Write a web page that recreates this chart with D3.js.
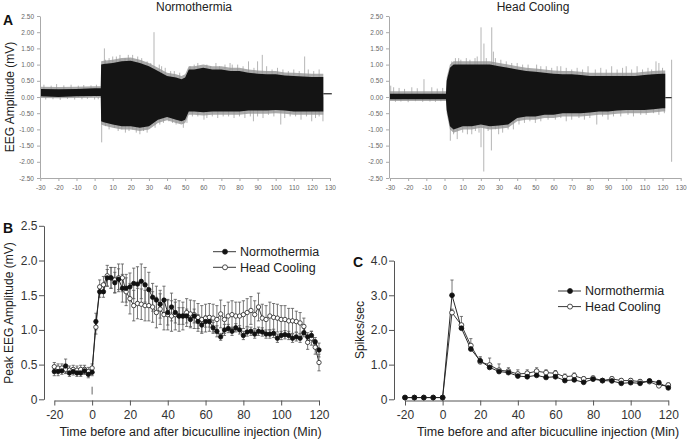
<!DOCTYPE html>
<html><head><meta charset="utf-8">
<script src="https://cdn.jsdelivr.net/npm/d3@7"></script>
<style>body{margin:0;background:#fff} svg{display:block} text{font-family:"Liberation Sans",Arial,sans-serif}</style>
</head><body><svg id="c" width="687" height="441"></svg>
<script>
// ---------- Panel A : EEG traces (envelopes) ----------
const aXTicks = [-30,-20,-10,0,10,20,30,40,50,60,70,80,90,100,110,120,130];
const aYTicks = [-2.5,-2,-1.5,-1,-0.5,0,0.5,1,1.5,2,2.5];

// Normothermia envelope
const nT      = [-30,-20,-10,0,3.4,3.6,5,10,15,20,25,30,35,40,45,48,50,52,55,60,65,70,75,80,85,90,95,100,105,110,115,120,126.3];
const nTop    = [0.25,0.24,0.25,0.27,0.27,1.0,1.02,1.05,1.1,1.12,1.05,0.95,0.8,0.65,0.6,0.55,0.6,0.85,0.85,0.9,0.85,0.85,0.8,0.8,0.75,0.72,0.7,0.7,0.66,0.65,0.63,0.62,0.62];
const nBot    = [0.02,0.0,0.02,0.03,0.03,-0.75,-0.78,-0.85,-0.9,-0.9,-0.95,-0.9,-0.7,-0.62,-0.7,-0.75,-0.7,-0.45,-0.45,-0.47,-0.45,-0.45,-0.45,-0.45,-0.42,-0.42,-0.42,-0.4,-0.42,-0.45,-0.45,-0.45,-0.45];
const nGTop   = [0.32,0.31,0.32,0.33,0.33,1.1,1.12,1.15,1.2,1.22,1.15,1.05,0.9,0.75,0.7,0.65,0.7,0.95,0.95,1.0,0.95,0.95,0.9,0.9,0.85,0.82,0.8,0.8,0.76,0.75,0.73,0.72,0.72];
const nGBot   = [-0.03,-0.04,-0.03,-0.02,-0.02,-0.85,-0.88,-0.95,-1.0,-1.0,-1.05,-1.0,-0.8,-0.72,-0.8,-0.85,-0.8,-0.55,-0.55,-0.57,-0.55,-0.55,-0.55,-0.55,-0.52,-0.52,-0.52,-0.5,-0.52,-0.55,-0.55,-0.55,-0.55];
const nSpikeT = [5.4,10,16.8,18.6,23.8,32.8,35.7,52.7,74.8,76,90,92.6,116,
  6,8,12,14,19,21,26,29,31,37,39,42,44,47,55,57,62,64,67,69,72,79,82,85,88,95,98,101,104,107,110,113,118,121,124,
  3.9,17,25,27,33.4,47,60.4,87.7,102.8,119.9,126.1,
  6,8,11,13,15,19,21,23,29,31,36,38,41,43,45,49,51,54,57,62,65,68,71,74,77,80,83,86,90,93,96,99,105,108,111,114,117,122,124,
  -28,-24,-21,-17,-13,-9,-6,-2,1, -27,-23,-19,-15,-11,-7,-4,0,2];
const nSpikeV = [1.5,1.25,1.2,1.3,1.25,2.0,1.0,0.95,1.05,1.0,1.1,1.3,1.25,
  1.15,1.2,1.25,1.3,1.2,1.3,1.2,1.1,1.05,0.95,0.9,0.8,0.8,0.75,1.0,1.05,1.0,0.95,1.05,0.95,1.0,1.0,0.95,1.1,0.9,0.95,0.85,0.9,0.85,0.8,0.85,0.8,0.85,0.8,0.85,
  -1.4,-1.1,-1.15,-1.05,-0.95,-0.78,-0.7,-0.75,-0.85,-0.75,-0.75,
  -0.9,-1.0,-0.95,-1.05,-1.0,-1.05,-1.0,-1.1,-1.1,-0.9,-0.85,-0.8,-0.75,-0.8,-0.85,-0.95,-0.8,-0.6,-0.6,-0.65,-0.6,-0.65,-0.6,-0.6,-0.65,-0.6,-0.65,-0.6,-0.6,-0.65,-0.55,-0.6,-0.65,-0.6,-0.6,-0.7,-0.6,-0.65,-0.6,
  0.38,0.35,0.4,0.36,0.38,0.35,0.37,0.36,0.38, -0.08,-0.07,-0.09,-0.06,-0.08,-0.07,-0.06,-0.08,-0.07];
const nTail   = [126.3,131]; const nTailV = 0.1;

// Head cooling envelope
const hT      = [-30,-20,-10,0,0.8,1.2,3,5,10,15,20,25,30,35,40,45,50,55,60,65,70,75,80,85,90,95,100,105,110,115,120,121.5];
const hTop    = [0.1,0.1,0.1,0.1,0.1,0.5,0.9,1.0,1.0,1.0,1.0,1.0,0.95,0.9,0.85,0.8,0.78,0.75,0.72,0.7,0.7,0.68,0.65,0.65,0.65,0.65,0.65,0.65,0.68,0.7,0.72,0.72];
const hBot    = [-0.07,-0.07,-0.07,-0.07,-0.07,-0.4,-0.9,-1.0,-0.9,-0.9,-0.85,-0.9,-0.88,-0.85,-0.65,-0.6,-0.6,-0.55,-0.55,-0.5,-0.5,-0.5,-0.48,-0.45,-0.45,-0.42,-0.4,-0.4,-0.4,-0.38,-0.35,-0.35];
const hGTop   = [0.18,0.18,0.18,0.18,0.18,0.6,1.0,1.1,1.1,1.1,1.1,1.1,1.05,1.0,0.95,0.9,0.88,0.85,0.82,0.8,0.8,0.78,0.75,0.75,0.75,0.75,0.75,0.75,0.78,0.8,0.82,0.82];
const hGBot   = [-0.12,-0.12,-0.12,-0.12,-0.12,-0.5,-1.0,-1.1,-1.0,-1.0,-0.95,-1.0,-0.98,-0.95,-0.75,-0.7,-0.7,-0.65,-0.65,-0.6,-0.6,-0.6,-0.58,-0.55,-0.55,-0.52,-0.5,-0.5,-0.5,-0.48,-0.45,-0.45];
const hSpikeT = [20.1,21.7,26,26.9,7.8,-11.3,-29.6,16.8,50.7,64,100,116.4,125,
  4,6,9,12,14,18,23,28,31,34,37,40,43,46,53,56,59,62,67,70,73,76,79,83,86,89,92,95,98,103,106,109,112,114,118,120,
  3.2,20.1,21.6,25.8,12.6,29.8,37.9,83.8,125,
  5,7,10,15,17,19,24,28,32,35,41,44,47,50,53,57,61,64,67,70,74,77,80,87,90,93,97,101,104,108,111,115,118,121,
  -28,-25,-22,-18,-15,-7,-4,-1, -27,-24,-20,-16,-12,-8,-5,-2];
const hSpikeV = [2.15,1.65,2.15,1.4,1.2,0.55,0.35,1.2,1.0,0.95,0.95,1.1,1.15,
  1.1,1.2,1.15,1.2,1.15,1.25,1.2,1.2,1.15,1.1,1.05,1.05,1.0,1.0,0.95,0.95,0.9,0.95,0.9,0.85,0.9,0.85,0.95,0.85,0.9,0.85,0.95,0.85,0.9,0.85,0.95,0.85,0.9,0.85,1.05,0.9,
  -1.35,-1.55,-2.3,-1.65,-1.15,-1.15,-1.0,-0.85,-2.0,
  -1.15,-1.3,-1.1,-1.15,-1.05,-1.1,-1.05,-1.0,-1.1,-1.0,-0.85,-0.8,-0.75,-0.8,-0.75,-0.7,-0.7,-0.65,-0.75,-0.7,-0.65,-0.7,-0.65,-0.6,-0.7,-0.6,-0.6,-0.55,-0.6,-0.55,-0.55,-0.5,-0.55,-0.5,
  0.3,0.28,0.25,0.3,0.27,0.3,0.26,0.28, -0.15,-0.14,-0.16,-0.13,-0.15,-0.14,-0.15,-0.13];
const hTail   = [121.5,125]; const hTailV = -0.02;

// ---------- Panel B : peak EEG amplitude ----------
const bTime = d3.range(-20,121,2);
const bNorm = [0.40,0.40,0.41,0.48,0.38,0.40,0.38,0.38,0.41,0.36,0.39,
  1.12,1.55,1.55,1.75,1.75,1.68,1.73,1.60,1.60,1.62,1.67,1.66,1.70,1.65,1.58,1.47,1.43,1.37,1.43,1.25,
  1.33,1.25,1.20,1.20,1.20,1.15,1.20,1.12,1.07,1.12,1.12,1.03,0.98,0.90,1.00,1.02,0.98,1.03,1.00,0.92,
  0.97,0.98,0.94,0.98,0.97,0.94,0.94,0.95,0.88,0.92,0.93,0.92,0.88,0.90,0.88,0.96,0.90,0.92,0.83,0.71];
const bNormErr = [0.06,0.06,0.05,0.10,0.05,0.05,0.05,0.05,0.05,0.05,0.05,
  0.12,0.08,0.08,0.12,0.15,0.15,0.15,0.20,0.20,0.20,0.22,0.25,0.25,0.25,0.25,0.20,0.20,0.20,0.20,0.18,
  0.20,0.15,0.12,0.12,0.10,0.10,0.10,0.10,0.10,0.08,0.08,0.08,0.08,0.05,0.08,0.06,0.06,0.06,0.06,0.06,
  0.06,0.06,0.06,0.06,0.06,0.06,0.06,0.06,0.06,0.06,0.06,0.06,0.06,0.06,0.06,0.06,0.06,0.06,0.06,0.10];
const bCool = [0.47,0.45,0.45,0.43,0.42,0.43,0.42,0.43,0.43,0.40,0.45,
  1.04,1.62,1.65,1.78,1.75,1.72,1.75,1.75,1.55,1.45,1.35,1.38,1.37,1.35,1.35,1.33,1.25,1.30,1.22,1.22,
  1.20,1.22,1.20,1.20,1.25,1.23,1.22,1.18,1.15,1.17,1.18,1.17,1.15,1.23,1.15,1.20,1.22,1.20,1.20,1.22,
  1.25,1.28,1.22,1.33,1.17,1.15,1.20,1.18,1.17,1.15,1.15,1.13,1.13,1.12,1.10,1.05,0.82,0.88,0.75,0.53];
const bCoolErr = [0.06,0.06,0.06,0.06,0.06,0.06,0.06,0.06,0.06,0.06,0.06,
  0.10,0.10,0.12,0.15,0.15,0.18,0.20,0.20,0.20,0.22,0.22,0.22,0.22,0.22,0.22,0.22,0.22,0.22,0.22,0.22,
  0.22,0.22,0.22,0.20,0.20,0.20,0.20,0.20,0.20,0.20,0.20,0.20,0.20,0.20,0.20,0.20,0.20,0.20,0.20,0.20,
  0.20,0.20,0.20,0.20,0.20,0.20,0.20,0.20,0.20,0.20,0.20,0.18,0.18,0.15,0.15,0.12,0.10,0.10,0.10,0.12];
const bXTicks = [-20,0,20,40,60,80,100,120];
const bYTicks = [0,0.5,1.0,1.5,2.0,2.5];

// ---------- Panel C : spikes/sec ----------
const cTime = d3.range(-20,121,5);
const cNorm = [0.05,0.05,0.05,0.05,0.05,3.0,2.05,1.45,1.11,0.92,0.80,0.77,0.67,0.65,0.69,0.63,0.65,0.54,0.56,0.49,0.58,0.54,0.53,0.46,0.48,0.46,0.53,0.48,0.33];
const cNormErr = [0,0,0,0,0,0.44,0.1,0.1,0.08,0.08,0.06,0.06,0.05,0.05,0.05,0.05,0.05,0.05,0.05,0.05,0.05,0.05,0.05,0.05,0.05,0.05,0.05,0.05,0.05];
const cCool = [0.05,0.05,0.05,0.05,0.05,2.5,2.14,1.55,1.08,0.99,0.84,0.81,0.73,0.75,0.81,0.77,0.75,0.65,0.68,0.59,0.61,0.54,0.59,0.54,0.54,0.51,0.51,0.39,0.41];
const cCoolErr = [0,0,0,0,0,0.1,0.25,0.2,0.15,0.2,0.18,0.1,0.12,0.1,0.1,0.08,0.08,0.08,0.08,0.06,0.06,0.06,0.06,0.06,0.06,0.06,0.06,0.06,0.06];
const cXTicks = [-20,0,20,40,60,80,100,120];
const cYTicks = [0,1,2,3,4];

const svg = d3.select("#c");

// ---------- draw A ----------
function eegPanel(title, titleX, yAxX, xr, T, top, bot, gtop, gbot, spT, spV, tail, tailV){
  const x = d3.scaleLinear().domain([-30,130]).range(xr);
  const y = d3.scaleLinear().domain([-2.5,2.5]).range([178,16]);
  const g = svg.append("g");
  const pts = T.map((t,i)=>({t, top:top[i], bot:bot[i], gt:gtop[i], gb:gbot[i]}));
  g.append("path").datum(pts).attr("fill","#ababab")
    .attr("d", d3.area().x(d=>x(d.t)).y0(d=>y(d.gb)).y1(d=>y(d.gt)));
  g.selectAll("line.sp").data(spT.map((t,i)=>({t,v:spV[i]}))).join("line")
    .attr("x1",d=>x(d.t)).attr("x2",d=>x(d.t)).attr("y1",y(0)).attr("y2",d=>y(d.v))
    .attr("stroke","#959595").attr("stroke-width",0.7);
  g.append("path").datum(pts).attr("fill","#141414")
    .attr("d", d3.area().x(d=>x(d.t)).y0(d=>y(d.bot)).y1(d=>y(d.top)));
  g.append("line").attr("x1",x(tail[0])).attr("x2",x(tail[1])).attr("y1",y(tailV)).attr("y2",y(tailV))
    .attr("stroke","#222").attr("stroke-width",1.2);
  const ya = g.append("g").attr("transform",`translate(${yAxX},0)`)
    .call(d3.axisLeft(y).tickValues(aYTicks).tickSize(3).tickSizeOuter(0).tickFormat(d=>d.toFixed(2)));
  const xa = g.append("g").attr("transform","translate(0,178)")
    .call(d3.axisBottom(x).tickValues(aXTicks).tickSize(3).tickSizeOuter(0).tickFormat(d=>String(d)));
  [ya,xa].forEach(a=>{
    a.select(".domain").attr("stroke","#aaa");
    a.selectAll(".tick line").attr("stroke","#aaa");
    a.selectAll("text").attr("fill","#666").style("font-size","6.5px");
  });
  xa.selectAll("text").attr("dy","0.9em");
  svg.append("text").attr("x",titleX).attr("y",11).attr("text-anchor","middle")
    .style("font-size","12px").attr("fill","#222").text(title);
}
eegPanel("Normothermia",194,40,[40.3,330],nT,nTop,nBot,nGTop,nGBot,nSpikeT,nSpikeV,nTail,nTailV);
eegPanel("Head Cooling",533,389,[390,680.7],hT,hTop,hBot,hGTop,hGBot,hSpikeT,hSpikeV,hTail,hTailV);
svg.append("text").attr("x",3).attr("y",25).style("font-size","14px").style("font-weight","bold").attr("fill","#111").text("A");
svg.append("text").attr("transform","translate(13.5,97) rotate(-90)").attr("text-anchor","middle")
  .style("font-size","12px").attr("fill","#222").text("EEG Amplitude (mV)");

// ---------- B & C ----------
function linePanel(o){
  const x = d3.scaleLinear().domain([-20,120]).range(o.xr);
  const y = d3.scaleLinear().domain(o.yd).range([399.3,o.ytop]);
  const g = svg.append("g");
  const ya = g.append("g").attr("transform",`translate(${o.yAxX},0)`)
    .call(d3.axisLeft(y).tickValues(o.yTicks).tickSize(5).tickSizeOuter(0).tickFormat(d=>d===0?"0":d.toFixed(1)));
  const xa = g.append("g").attr("transform","translate(0,400.5)")
    .call(d3.axisBottom(x).tickValues(o.xTicks).tickSize(5).tickSizeOuter(0).tickFormat(d=>String(d)));
  [ya,xa].forEach(a=>{
    a.select(".domain").attr("stroke","#555");
    a.selectAll(".tick line").attr("stroke","#555");
    a.selectAll("text").attr("fill","#333").style("font-size","12px");
  });
  ya.selectAll("text").attr("x",-6.5);
  xa.selectAll("text").attr("dy","0.85em");
  const series = [
    {v:o.norm, e:o.normErr, fill:"#111", stroke:"#111"},
    {v:o.cool, e:o.coolErr, fill:"#fff", stroke:"#222"}];
  series.forEach(s=>{
    const d = o.time.map((t,i)=>({t, v:s.v[i], e:s.e[i]})).filter(p=>p.e>0);
    g.selectAll(null).data(d).join("line")
      .attr("x1",p=>x(p.t)).attr("x2",p=>x(p.t))
      .attr("y1",p=>y(o.both?p.v-p.e:p.v)).attr("y2",p=>y(p.v+p.e))
      .attr("stroke","#555").attr("stroke-width",0.8);
    g.selectAll(null).data(d).join("line")
      .attr("x1",p=>x(p.t)-1.6).attr("x2",p=>x(p.t)+1.6)
      .attr("y1",p=>y(p.v+p.e)).attr("y2",p=>y(p.v+p.e))
      .attr("stroke","#555").attr("stroke-width",0.8);
    if(o.both){
      g.selectAll(null).data(d).join("line")
        .attr("x1",p=>x(p.t)-1.6).attr("x2",p=>x(p.t)+1.6)
        .attr("y1",p=>y(p.v-p.e)).attr("y2",p=>y(p.v-p.e))
        .attr("stroke","#555").attr("stroke-width",0.8);
    }
  });
  series.forEach(s=>{
    const d = o.time.map((t,i)=>({t, v:s.v[i]}));
    g.append("path").datum(d).attr("fill","none").attr("stroke",s.stroke).attr("stroke-width",0.9)
      .attr("d", d3.line().x(p=>x(p.t)).y(p=>y(p.v)));
  });
  series.slice().reverse().forEach(s=>{
    g.selectAll(null).data(o.time.map((t,i)=>({t, v:s.v[i]}))).join("circle")
      .attr("cx",p=>x(p.t)).attr("cy",p=>y(p.v)).attr("r",o.r)
      .attr("fill",s.fill).attr("stroke",s.stroke).attr("stroke-width",0.8);
  });
  // legend
  const lg = svg.append("g");
  [["Normothermia","#111"],["Head Cooling","#fff"]].forEach((L,i)=>{
    const ly = o.legY + i*15.6;
    lg.append("line").attr("x1",o.legX).attr("x2",o.legX+23).attr("y1",ly).attr("y2",ly).attr("stroke","#222").attr("stroke-width",0.9);
    lg.append("circle").attr("cx",o.legX+12).attr("cy",ly).attr("r",2.5).attr("fill",L[1]).attr("stroke","#222").attr("stroke-width",0.8);
    lg.append("text").attr("x",o.legX+27).attr("y",ly+4.4).style("font-size","12.5px").attr("fill","#222").text(L[0]);
  });
  svg.append("text").attr("x",o.xTitleX).attr("y",436).attr("text-anchor","middle")
    .style("font-size","12.5px").attr("fill","#222").text("Time before and after bicuculline injection (Min)");
  svg.append("text").attr("transform",`translate(${o.yTitleX},${o.yTitleY}) rotate(-90)`).attr("text-anchor","middle")
    .style("font-size","12px").attr("fill","#222").text(o.yTitle);
  svg.append("text").attr("x",o.letterX).attr("y",o.letterY).style("font-size","14px").style("font-weight","bold").attr("fill","#111").text(o.letter);
  return {x,y,g};
}
const B = linePanel({xr:[54.3,319], yd:[0,2.5], ytop:225.8, yAxX:44, yTicks:bYTicks, xTicks:bXTicks,
  time:bTime, norm:bNorm, normErr:bNormErr, cool:bCool, coolErr:bCoolErr, both:true, r:2.2,
  legX:213, legY:251.7, xTitleX:190.5, yTitle:"Peak EEG Amplitude (mV)", yTitleX:13, yTitleY:313,
  letter:"B", letterX:3, letterY:233});
B.g.append("line").attr("x1",B.x(0)).attr("x2",B.x(0)).attr("y1",386.7).attr("y2",394.5)
  .attr("stroke","#555").attr("stroke-width",0.9);
linePanel({xr:[405,668.3], yd:[0,4], ytop:260.6, yAxX:394, yTicks:cYTicks, xTicks:cXTicks,
  time:cTime, norm:cNorm, normErr:cNormErr, cool:cCool, coolErr:cCoolErr, both:false, r:2.4,
  legX:558, legY:291, xTitleX:548, yTitle:"Spikes/sec", yTitleX:364, yTitleY:330,
  letter:"C", letterX:353, letterY:267});
</script></body></html>
